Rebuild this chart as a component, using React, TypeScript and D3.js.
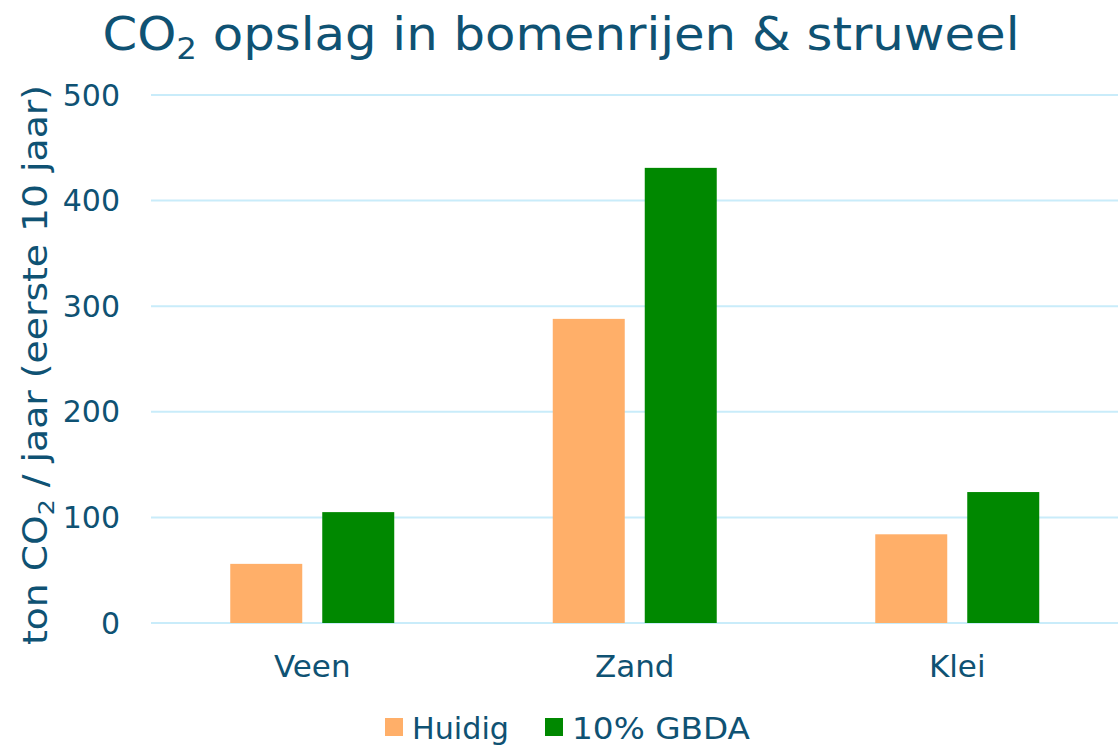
import React from "react";
import * as d3 from "d3";

const categories = ["Veen", "Zand", "Klei"];
const seriesNames = ["Huidig", "10% GBDA"];
const huidig = [56, 288, 84];
const gbda = [105, 431, 124];
const yTicks = [0, 100, 200, 300, 400, 500];
const colors = ["#ffaf69", "#008800"];

const W = 1118;
const H = 747;
const TEXT = "#0f5273";
const FONT = "Verdana, 'DejaVu Sans', sans-serif";

export default function App() {
  const x0 = d3.scaleBand<string>().domain(categories).range([151, 1118.5]).paddingInner(0.4915).paddingOuter(0.24575);
  const x1 = d3.scaleBand<string>().domain(seriesNames).range([0, x0.bandwidth()]).paddingInner(20 / 92).paddingOuter(0);
  const y = d3.scaleLinear().domain([0, 500]).range([623, 95]);
  const values = [huidig, gbda];

  return (
    <svg width={W} height={H} style={{ position: "absolute", left: 0, top: 0, background: "#fff" }} fontFamily={FONT}>
      <text x={561} y={50} textAnchor="middle" fontSize={46} fill={TEXT} textLength={917} lengthAdjust="spacingAndGlyphs">
        CO<tspan fontSize={30} dy={9}>2</tspan><tspan dy={-9}> opslag in bomenrijen &amp; struweel</tspan>
      </text>
      {yTicks.map((t) => (
        <g key={t}>
          <line x1={151} x2={1118} y1={y(t)} y2={y(t)} stroke="#c9ecfa" strokeWidth={2} />
          <text x={120} y={y(t) + 10.5} textAnchor="end" fontSize={30} fill={TEXT}>{t}</text>
        </g>
      ))}
      {categories.map((c, i) => (
        <g key={c}>
          {seriesNames.map((s, j) => (
            <rect key={s} x={x0(c)! + x1(s)!} y={y(values[j][i])} width={x1.bandwidth()} height={y(0) - y(values[j][i])} fill={colors[j]} />
          ))}
          <text x={x0(c)! + x0.bandwidth() / 2} y={677} textAnchor="middle" fontSize={31} fill={TEXT}>{c}</text>
        </g>
      ))}
      <text transform={`translate(47,365) rotate(-90)`} textAnchor="middle" fontSize={33} fill={TEXT} textLength={560} lengthAdjust="spacingAndGlyphs">
        ton CO<tspan fontSize={22} dy={7}>2</tspan><tspan dy={-7}> / jaar (eerste 10 jaar)</tspan>
      </text>
      <g>
        <rect x={385} y={718} width={18} height={18} fill={colors[0]} />
        <text x={412} y={739} fontSize={31} fill={TEXT} textLength={97} lengthAdjust="spacingAndGlyphs">{seriesNames[0]}</text>
        <rect x={545} y={718} width={18} height={18} fill={colors[1]} />
        <text x={572} y={739} fontSize={31} fill={TEXT} textLength={178} lengthAdjust="spacingAndGlyphs">{seriesNames[1]}</text>
      </g>
    </svg>
  );
}
